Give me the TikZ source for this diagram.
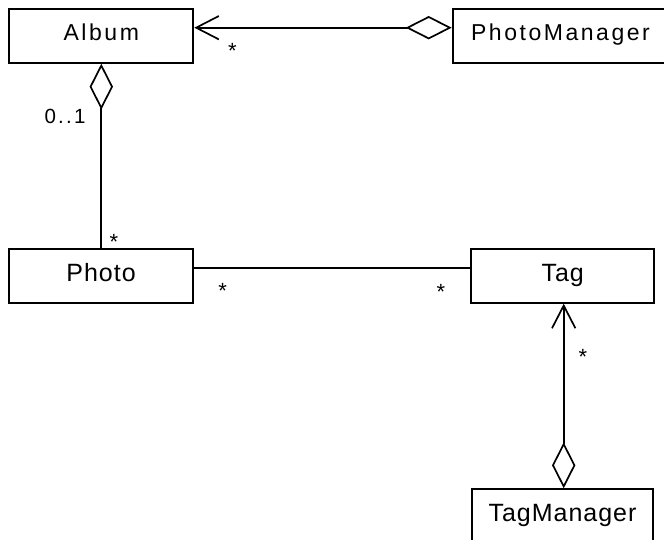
\documentclass[tikz,border=0pt]{standalone}
\usepackage{fontspec}
\setmainfont{Liberation Sans}
\newfontfamily\topfont[LetterSpace=11]{Liberation Sans}
\newfontfamily\botfont[LetterSpace=4]{Liberation Sans}
\usetikzlibrary{arrows.meta}
\begin{document}
\begin{tikzpicture}[x=1pt,y=-1pt,
  cls/.style={draw, line width=2pt, inner sep=0pt, minimum height=53.4pt},
  toprow/.style={font=\topfont\fontsize{23}{27}\selectfont, text height=16.5pt, text depth=8pt},
  botrow/.style={font=\botfont\fontsize{25}{29}\selectfont, text height=18pt, text depth=8pt},
  lab/.style={font=\topfont\fontsize{20.5}{24}\selectfont, inner sep=0pt},
  star/.style={font=\fontsize{22}{26}\selectfont, inner sep=0pt, anchor=base},
  conn/.style={line width=1.7pt},
  agg/.tip={Diamond[open,length=46pt,width=23.4pt]},
  nav/.tip={Straight Barb[length=22.7pt,width=23.4pt]}
]
\useasboundingbox (0,0) rectangle (664,540);
\clip (0,0) rectangle (664,540);

\node[cls, toprow, minimum width=184pt] (album) at (101.3,36) {Album};
\node[cls, toprow, minimum width=215.6pt] (pm) at (560.5,36) {PhotoManager};
\node[cls, botrow, minimum width=183.4pt] (photo) at (101,276) {Photo};
\node[cls, botrow, minimum width=183.3pt] (tag) at (562.7,276) {Tag};
\node[cls, botrow, minimum width=181.6pt] (tm) at (562.5,516) {TagManager};

\draw[conn, agg-nav] ([yshift=8.3pt]pm.west) -- ([yshift=8.3pt]album.east);
\draw[conn, agg-] (album.south) -- (album.south |- photo.north);
\draw[conn] ([yshift=8.3pt]photo.east) -- ([yshift=8.3pt]photo.east -| tag.west);
\draw[conn, agg-nav] ([xshift=1.2pt]tm.north) -- ([xshift=1.2pt]tm.north |- tag.south);

\node[star] (s1) at (232.3,58.7) {*};
\node[lab] (m1) at (65,116.7) {0..1};
\node[star] (s2) at (114,250) {*};
\node[star] (s3) at (222.7,298.7) {*};
\node[star] (s4) at (441,299) {*};
\node[star] (s5) at (583,364) {*};
\end{tikzpicture}
\end{document}
